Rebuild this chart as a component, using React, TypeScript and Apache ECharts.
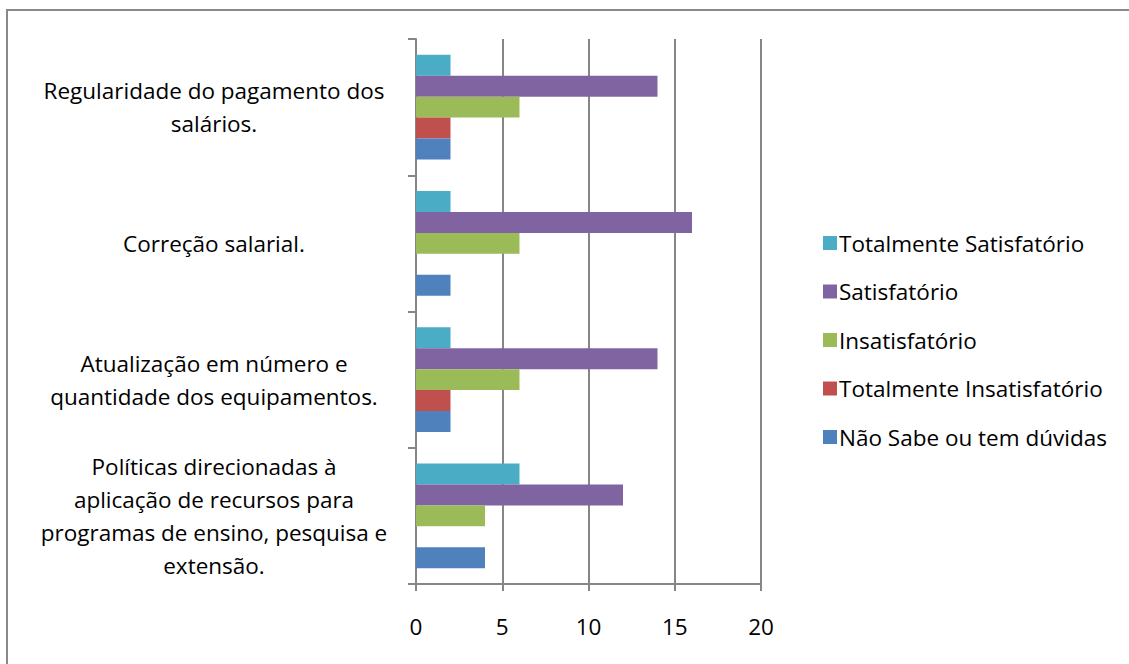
import React, { useEffect, useRef } from "react";
import * as echarts from "echarts";

const categories = [
  "Políticas direcionadas à\naplicação de recursos para\nprogramas de ensino, pesquisa e\nextensão.",
  "Atualização em número e\nquantidade dos equipamentos.",
  "Correção salarial.",
  "Regularidade do pagamento dos\nsalários.",
];

const seriesNames = [
  "Totalmente Satisfatório",
  "Satisfatório",
  "Insatisfatório",
  "Totalmente Insatisfatório",
  "Não Sabe ou tem dúvidas",
];

const totSatisf = [6, 2, 2, 2];
const satisf = [12, 14, 16, 14];
const insat = [4, 6, 6, 6];
const totInsat = [0, 2, 0, 2];
const naoSabe = [4, 2, 2, 2];

const colors = ["#4BACC6", "#8064A2", "#9BBB59", "#C0504D", "#4F81BD"];
const xTicks = [0, 5, 10, 15, 20];

export default function App() {
  const ref = useRef<HTMLDivElement>(null);
  useEffect(() => {
    document.body.style.margin = "0";
    const chart = echarts.init(ref.current!, undefined, { renderer: "svg" });
    const values = [totSatisf, satisf, insat, totInsat, naoSabe];
    const font = "Open Sans";
    const fs = 22.5;
    chart.setOption({
      animation: false,
      textStyle: { fontFamily: font },
      graphic: [
        {
          type: "rect",
          shape: { x: 7, y: 10, width: 1200, height: 800 },
          style: { fill: "none", stroke: "#898989", lineWidth: 2 },
          silent: true,
        },
      ],
      grid: { left: 416, right: 368, top: 39, bottom: 80 },
      legend: {
        orient: "vertical",
        left: 818,
        top: 223,
        itemWidth: 14,
        itemHeight: 14,
        itemGap: 18.5,
        icon: "rect",
        data: seriesNames,
        textStyle: { fontSize: fs, lineHeight: 30, color: "#000", fontFamily: font, padding: [0, 0, 0, -3] },
      },
      xAxis: {
        type: "value",
        min: xTicks[0],
        max: xTicks[xTicks.length - 1],
        interval: 5,
        axisLine: { show: true, lineStyle: { color: "#868686", width: 2 } },
        axisTick: { show: true, length: 7, lineStyle: { color: "#868686", width: 2 } },
        splitLine: { show: true, lineStyle: { color: "#868686", width: 2 } },
        axisLabel: { fontSize: fs, color: "#000", margin: 31, fontFamily: font },
      },
      yAxis: {
        type: "category",
        data: categories,
        axisLine: { show: true, lineStyle: { color: "#868686", width: 2 } },
        axisTick: { show: true, length: 8, lineStyle: { color: "#868686", width: 2 } },
        axisLabel: {
          fontSize: fs,
          color: "#000",
          align: "center",
          margin: 202,
          lineHeight: 33,
          fontFamily: font,
        },
      },
      series: seriesNames.map((name, i) => ({
        name,
        type: "bar",
        data: values[i],
        barGap: "0%",
        barCategoryGap: "23%",
        itemStyle: { color: colors[i] },
      })),
    });
    return () => chart.dispose();
  }, []);
  return <div ref={ref} style={{ width: 1129, height: 664 }} />;
}
